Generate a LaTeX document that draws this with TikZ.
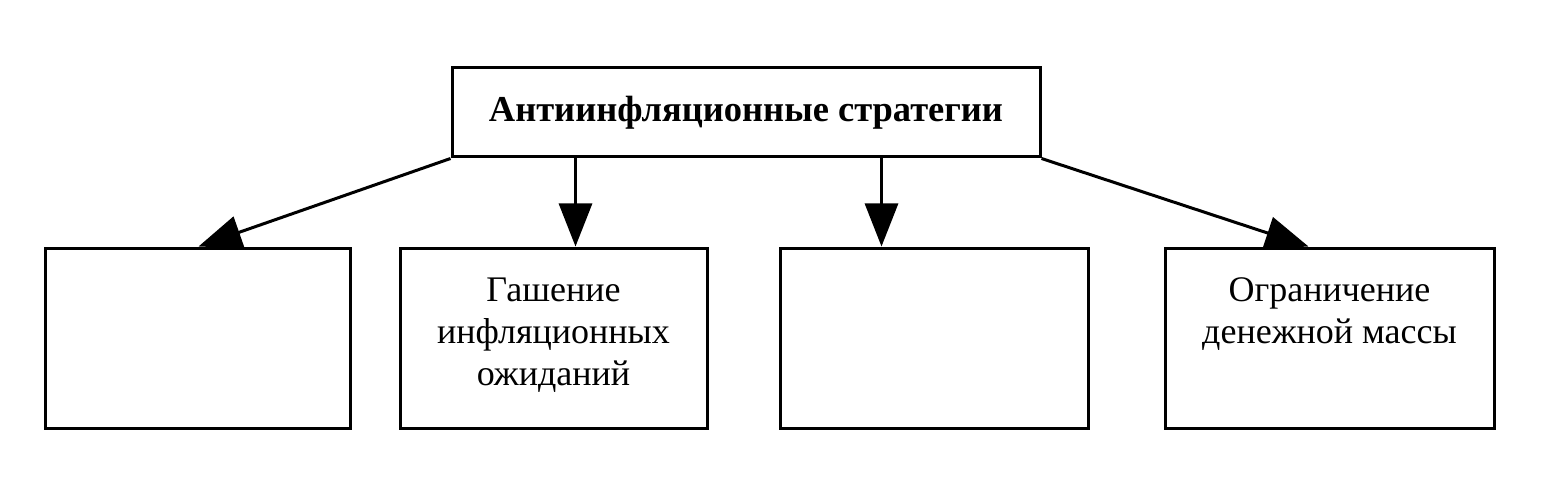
\documentclass[tikz,border=0pt]{standalone}
\usepackage{fontspec}
\setmainfont{Liberation Serif}
\usetikzlibrary{arrows.meta,calc}
\begin{document}
\begin{tikzpicture}[x=1pt,y=1pt,
  box/.style={draw,line width=3pt,minimum width=#1,minimum height=180pt,inner sep=0pt},
  topbox/.style={draw,line width=3pt,minimum width=588pt,minimum height=89pt,inner sep=0pt,
    font=\fontsize{36.5}{42}\selectfont\bfseries},
  txt/.style={align=center,inner sep=0pt,font=\fontsize{36}{42}\selectfont},
  arr/.style={line width=3pt,-{Triangle[length=43pt,width=33pt]}}]
\useasboundingbox (0,0) rectangle (1563,480);
\fill[white] (0,0) rectangle (1563,480);
\node[topbox] (top) at (746,367.5) {Антиинфляционные стратегии};
\node[box=305pt] (b1) at (197.5,142) {};
\node[box=307pt] (b2) at (553.5,142) {};
\node[box=308pt] (b3) at (934,142) {};
\node[box=329pt] (b4) at (1329.5,142) {};
\node[txt,anchor=north] (t2) at ($(b2.north)+(0,-31)$) {Гашение\\инфляционных\\ожиданий};
\node[txt,anchor=north] (t4) at ($(b4.north)+(0,-31)$) {Ограничение\\денежной массы};
\draw[arr] (top.south west) -- ($(b1.north west)+(155,0)$);
\draw[arr] ($(top.south west)+(125,0)$) -- ($(b2.north west)+(177,0)$);
\draw[arr] ($(top.south west)+(431,0)$) -- ($(b3.north west)+(103,0)$);
\draw[arr] (top.south east) -- ($(b4.north west)+(145,0)$);
\end{tikzpicture}
\end{document}
